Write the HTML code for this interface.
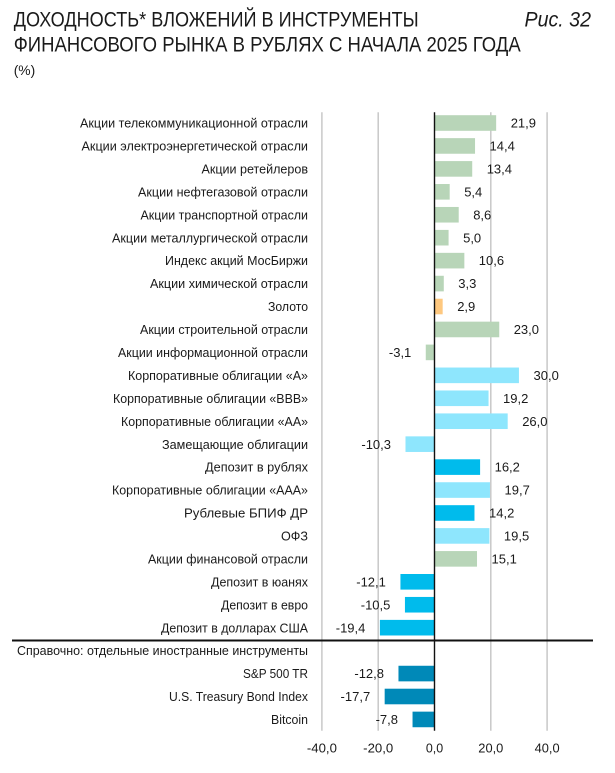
<!DOCTYPE html>
<html><head><meta charset="utf-8"><style>
html,body{margin:0;padding:0;background:#fff;}
svg{display:block;}
text{font-family:"Liberation Sans","Noto Sans CJK SC",sans-serif;fill:#1a1a1a;}
.l{font-size:13px;text-anchor:end;}
.v{font-size:13px;}
.vn{font-size:13px;text-anchor:end;}
.t{font-size:13px;text-anchor:middle;}
</style></head><body>
<svg width="615" height="773" viewBox="0 0 615 773" xmlns="http://www.w3.org/2000/svg">
<rect width="615" height="773" fill="#fff"/>
<text x="13.7" y="26.7" style="font-size:21px" textLength="405" lengthAdjust="spacingAndGlyphs">ДОХОДНОСТЬ* ВЛОЖЕНИЙ В ИНСТРУМЕНТЫ</text>
<text x="13.7" y="51.7" style="font-size:21px" textLength="507" lengthAdjust="spacingAndGlyphs">ФИНАНСОВОГО РЫНКА В РУБЛЯХ С НАЧАЛА 2025 ГОДА</text>
<text x="524.5" y="26.7" style="font-size:21px;font-style:italic" textLength="66.5" lengthAdjust="spacingAndGlyphs">Рис. 32</text>
<text x="13.7" y="75" style="font-size:14px" textLength="21.5" lengthAdjust="spacingAndGlyphs">(%)</text>

<g stroke="#c8c8c8" stroke-width="1.5">
<line x1="321.9" y1="112.3" x2="321.9" y2="730.7"/>
<line x1="378.2" y1="112.3" x2="378.2" y2="730.7"/>
<line x1="490.8" y1="112.3" x2="490.8" y2="730.7"/>
<line x1="547.1" y1="112.3" x2="547.1" y2="730.7"/>
</g>

<g>
<rect x="434.5" y="115.2" width="61.65" height="15.6" fill="#b8d5b8"/>
<rect x="434.5" y="138.14" width="40.54" height="15.6" fill="#b8d5b8"/>
<rect x="434.5" y="161.08" width="37.72" height="15.6" fill="#b8d5b8"/>
<rect x="434.5" y="184.02" width="15.2" height="15.6" fill="#b8d5b8"/>
<rect x="434.5" y="206.96" width="24.21" height="15.6" fill="#b8d5b8"/>
<rect x="434.5" y="229.9" width="14.08" height="15.6" fill="#b8d5b8"/>
<rect x="434.5" y="252.84" width="29.84" height="15.6" fill="#b8d5b8"/>
<rect x="434.5" y="275.78" width="9.29" height="15.6" fill="#b8d5b8"/>
<rect x="434.5" y="298.72" width="8.16" height="15.6" fill="#fec87f"/>
<rect x="434.5" y="321.66" width="64.75" height="15.6" fill="#b8d5b8"/>
<rect x="425.77" y="344.6" width="8.73" height="15.6" fill="#b8d5b8"/>
<rect x="434.5" y="367.54" width="84.45" height="15.6" fill="#8ee6fd"/>
<rect x="434.5" y="390.48" width="54.05" height="15.6" fill="#8ee6fd"/>
<rect x="434.5" y="413.42" width="73.19" height="15.6" fill="#8ee6fd"/>
<rect x="405.5" y="436.36" width="29.0" height="15.6" fill="#8ee6fd"/>
<rect x="434.5" y="459.3" width="45.6" height="15.6" fill="#00bbec"/>
<rect x="434.5" y="482.24" width="55.46" height="15.6" fill="#8ee6fd"/>
<rect x="434.5" y="505.18" width="39.97" height="15.6" fill="#00bbec"/>
<rect x="434.5" y="528.12" width="54.89" height="15.6" fill="#8ee6fd"/>
<rect x="434.5" y="551.06" width="42.51" height="15.6" fill="#b8d5b8"/>
<rect x="400.44" y="574.0" width="34.06" height="15.6" fill="#00bbec"/>
<rect x="404.94" y="596.94" width="29.56" height="15.6" fill="#00bbec"/>
<rect x="379.89" y="619.88" width="54.61" height="15.6" fill="#00bbec"/>
<rect x="398.47" y="665.76" width="36.03" height="15.6" fill="#0089b8"/>
<rect x="384.67" y="688.7" width="49.83" height="15.6" fill="#0089b8"/>
<rect x="412.54" y="711.64" width="21.96" height="15.6" fill="#0089b8"/>
</g>

<line x1="434.5" y1="112.3" x2="434.5" y2="730.7" stroke="#111" stroke-width="1.4"/>
<line x1="12" y1="640.5" x2="593" y2="640.5" stroke="#111" stroke-width="2"/>

<g>
<text class="l" x="308" y="127.6" textLength="228" lengthAdjust="spacingAndGlyphs">Акции телекоммуникационной отрасли</text>
<text class="l" x="308" y="150.54" textLength="226.5" lengthAdjust="spacingAndGlyphs">Акции электроэнергетической отрасли</text>
<text class="l" x="308" y="173.48" textLength="106.5" lengthAdjust="spacingAndGlyphs">Акции ретейлеров</text>
<text class="l" x="308" y="196.42" textLength="170" lengthAdjust="spacingAndGlyphs">Акции нефтегазовой отрасли</text>
<text class="l" x="308" y="219.36" textLength="167.5" lengthAdjust="spacingAndGlyphs">Акции транспортной отрасли</text>
<text class="l" x="308" y="242.3" textLength="196" lengthAdjust="spacingAndGlyphs">Акции металлургической отрасли</text>
<text class="l" x="308" y="265.24" textLength="143" lengthAdjust="spacingAndGlyphs">Индекс акций МосБиржи</text>
<text class="l" x="308" y="288.18" textLength="158" lengthAdjust="spacingAndGlyphs">Акции химической отрасли</text>
<text class="l" x="308" y="311.12" textLength="40" lengthAdjust="spacingAndGlyphs">Золото</text>
<text class="l" x="308" y="334.06" textLength="168" lengthAdjust="spacingAndGlyphs">Акции строительной отрасли</text>
<text class="l" x="308" y="357.0" textLength="190" lengthAdjust="spacingAndGlyphs">Акции информационной отрасли</text>
<text class="l" x="308" y="379.94" textLength="180" lengthAdjust="spacingAndGlyphs">Корпоративные облигации «А»</text>
<text class="l" x="308" y="402.88" textLength="195" lengthAdjust="spacingAndGlyphs">Корпоративные облигации «BBB»</text>
<text class="l" x="308" y="425.82" textLength="187" lengthAdjust="spacingAndGlyphs">Корпоративные облигации «АА»</text>
<text class="l" x="308" y="448.76" textLength="146" lengthAdjust="spacingAndGlyphs">Замещающие облигации</text>
<text class="l" x="308" y="471.7" textLength="103" lengthAdjust="spacingAndGlyphs">Депозит в рублях</text>
<text class="l" x="308" y="494.64" textLength="196" lengthAdjust="spacingAndGlyphs">Корпоративные облигации «ААА»</text>
<text class="l" x="308" y="517.58" textLength="124" lengthAdjust="spacingAndGlyphs">Рублевые БПИФ ДР</text>
<text class="l" x="308" y="540.52" textLength="27" lengthAdjust="spacingAndGlyphs">ОФЗ</text>
<text class="l" x="308" y="563.46" textLength="160" lengthAdjust="spacingAndGlyphs">Акции финансовой отрасли</text>
<text class="l" x="308" y="586.4" textLength="97" lengthAdjust="spacingAndGlyphs">Депозит в юанях</text>
<text class="l" x="308" y="609.34" textLength="87" lengthAdjust="spacingAndGlyphs">Депозит в евро</text>
<text class="l" x="308" y="632.28" textLength="147" lengthAdjust="spacingAndGlyphs">Депозит в долларах США</text>
<text class="l" x="308" y="655.22" textLength="291" lengthAdjust="spacingAndGlyphs">Справочно: отдельные иностранные инструменты</text>
<text class="l" x="308" y="678.16" textLength="65" lengthAdjust="spacingAndGlyphs">S&amp;P 500 TR</text>
<text class="l" x="308" y="701.1" textLength="139" lengthAdjust="spacingAndGlyphs">U.S. Treasury Bond Index</text>
<text class="l" x="308" y="724.04" textLength="37" lengthAdjust="spacingAndGlyphs">Bitcoin</text>
</g>

<g>
<text class="v" x="510.7" y="127.6">21,9</text>
<text class="v" x="489.5" y="150.54">14,4</text>
<text class="v" x="486.7" y="173.48">13,4</text>
<text class="v" x="464.2" y="196.42">5,4</text>
<text class="v" x="473.2" y="219.36">8,6</text>
<text class="v" x="463.1" y="242.3">5,0</text>
<text class="v" x="478.8" y="265.24">10,6</text>
<text class="v" x="458.3" y="288.18">3,3</text>
<text class="v" x="457.2" y="311.12">2,9</text>
<text class="v" x="513.7" y="334.06">23,0</text>
<text class="vn" x="411.3" y="357.0">-3,1</text>
<text class="v" x="533.5" y="379.94">30,0</text>
<text class="v" x="503.0" y="402.88">19,2</text>
<text class="v" x="522.2" y="425.82">26,0</text>
<text class="vn" x="391.0" y="448.76">-10,3</text>
<text class="v" x="494.6" y="471.7">16,2</text>
<text class="v" x="504.5" y="494.64">19,7</text>
<text class="v" x="489.0" y="517.58">14,2</text>
<text class="v" x="503.9" y="540.52">19,5</text>
<text class="v" x="491.5" y="563.46">15,1</text>
<text class="vn" x="385.9" y="586.4">-12,1</text>
<text class="vn" x="390.4" y="609.34">-10,5</text>
<text class="vn" x="365.4" y="632.28">-19,4</text>
<text class="vn" x="384.0" y="678.16">-12,8</text>
<text class="vn" x="370.2" y="701.1">-17,7</text>
<text class="vn" x="398.0" y="724.04">-7,8</text>
</g>

<g>
<text class="t" x="321.9" y="752.5" textLength="30" lengthAdjust="spacingAndGlyphs">-40,0</text>
<text class="t" x="378.2" y="752.5" textLength="30" lengthAdjust="spacingAndGlyphs">-20,0</text>
<text class="t" x="434.5" y="752.5" textLength="17.3" lengthAdjust="spacingAndGlyphs">0,0</text>
<text class="t" x="490.8" y="752.5" textLength="25" lengthAdjust="spacingAndGlyphs">20,0</text>
<text class="t" x="547.1" y="752.5" textLength="25" lengthAdjust="spacingAndGlyphs">40,0</text>
</g>
</svg>
</body></html>
